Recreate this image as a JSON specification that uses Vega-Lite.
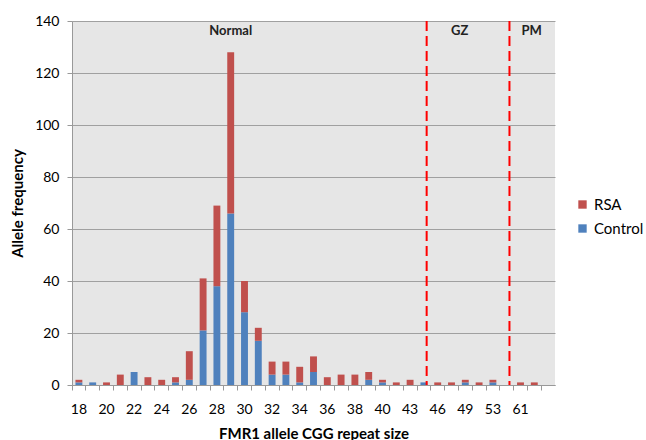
{
  "$schema": "https://vega.github.io/schema/vega-lite/v6.json",
  "width": 483,
  "height": 364,
  "autosize": {"type": "none"},
  "padding": {"left": 72, "top": 21, "right": 91, "bottom": 55},
  "background": "white",
  "config": {"font": "Lato", "view": {"fill": "#e6e6e6", "stroke": null}},
  "data": {
    "values": [
      {"size": "18", "group": "Control", "count": 1}, {"size": "18", "group": "RSA", "count": 1},
      {"size": "19", "group": "Control", "count": 1}, {"size": "19", "group": "RSA", "count": 0},
      {"size": "20", "group": "Control", "count": 0}, {"size": "20", "group": "RSA", "count": 1},
      {"size": "21", "group": "Control", "count": 0}, {"size": "21", "group": "RSA", "count": 4},
      {"size": "22", "group": "Control", "count": 5}, {"size": "22", "group": "RSA", "count": 0},
      {"size": "23", "group": "Control", "count": 0}, {"size": "23", "group": "RSA", "count": 3},
      {"size": "24", "group": "Control", "count": 0}, {"size": "24", "group": "RSA", "count": 2},
      {"size": "25", "group": "Control", "count": 1}, {"size": "25", "group": "RSA", "count": 2},
      {"size": "26", "group": "Control", "count": 2}, {"size": "26", "group": "RSA", "count": 11},
      {"size": "27", "group": "Control", "count": 21}, {"size": "27", "group": "RSA", "count": 20},
      {"size": "28", "group": "Control", "count": 38}, {"size": "28", "group": "RSA", "count": 31},
      {"size": "29", "group": "Control", "count": 66}, {"size": "29", "group": "RSA", "count": 62},
      {"size": "30", "group": "Control", "count": 28}, {"size": "30", "group": "RSA", "count": 12},
      {"size": "31", "group": "Control", "count": 17}, {"size": "31", "group": "RSA", "count": 5},
      {"size": "32", "group": "Control", "count": 4}, {"size": "32", "group": "RSA", "count": 5},
      {"size": "33", "group": "Control", "count": 4}, {"size": "33", "group": "RSA", "count": 5},
      {"size": "34", "group": "Control", "count": 1}, {"size": "34", "group": "RSA", "count": 6},
      {"size": "35", "group": "Control", "count": 5}, {"size": "35", "group": "RSA", "count": 6},
      {"size": "36", "group": "Control", "count": 0}, {"size": "36", "group": "RSA", "count": 3},
      {"size": "37", "group": "Control", "count": 0}, {"size": "37", "group": "RSA", "count": 4},
      {"size": "38", "group": "Control", "count": 0}, {"size": "38", "group": "RSA", "count": 4},
      {"size": "39", "group": "Control", "count": 2}, {"size": "39", "group": "RSA", "count": 3},
      {"size": "40", "group": "Control", "count": 1}, {"size": "40", "group": "RSA", "count": 1},
      {"size": "41", "group": "Control", "count": 0}, {"size": "41", "group": "RSA", "count": 1},
      {"size": "43", "group": "Control", "count": 0}, {"size": "43", "group": "RSA", "count": 2},
      {"size": "45", "group": "Control", "count": 1}, {"size": "45", "group": "RSA", "count": 0},
      {"size": "46", "group": "Control", "count": 0}, {"size": "46", "group": "RSA", "count": 1},
      {"size": "47", "group": "Control", "count": 0}, {"size": "47", "group": "RSA", "count": 1},
      {"size": "49", "group": "Control", "count": 1}, {"size": "49", "group": "RSA", "count": 1},
      {"size": "51", "group": "Control", "count": 0}, {"size": "51", "group": "RSA", "count": 1},
      {"size": "53", "group": "Control", "count": 1}, {"size": "53", "group": "RSA", "count": 1},
      {"size": "61", "group": "Control", "count": 0}, {"size": "61", "group": "RSA", "count": 1},
      {"size": "63", "group": "Control", "count": 0}, {"size": "63", "group": "RSA", "count": 1}
    ]
  },
  "encoding": {
    "x": {
      "field": "size",
      "type": "ordinal",
      "scale": {
        "domain": ["18","19","20","21","22","23","24","25","26","27","28","29","30","31","32","33","34","35","36","37","38","39","40","41","43","45","46","47","49","51","53","55","61","63","65"],
        "paddingInner": 0,
        "paddingOuter": 0
      },
      "axis": {
        "title": "FMR1 allele CGG repeat size",
        "labelAngle": 0,
        "bandPosition": 0,
        "tickSize": 5,
        "tickColor": "#999999",
        "domainColor": "#999999",
        "labelPadding": 12,
        "labelFontSize": 14,
        "labelColor": "#000000",
        "labelOverlap": false,
        "labelExpr": "indexof(['18','20','22','24','26','28','30','32','34','36','38','40','43','46','49','53','61'], datum.value) >= 0 ? datum.label : ''",
        "titleFontSize": 15,
        "titleFontWeight": "bold",
        "titleColor": "#000000",
        "titleY": 48,
        "titleBaseline": "middle",
        "grid": false
      }
    }
  },
  "layer": [
    {
      "mark": {"type": "bar", "width": {"band": 0.5}},
      "encoding": {
        "y": {
          "field": "count",
          "type": "quantitative",
          "stack": "zero",
          "scale": {"domain": [0, 140]},
          "axis": {
            "title": "Allele frequency",
            "values": [0, 20, 40, 60, 80, 100, 120, 140],
            "grid": true,
            "gridColor": "#a0a0a0",
            "domainColor": "#999999",
            "tickColor": "#999999",
            "tickSize": 5,
            "labelPadding": 8,
            "labelFontSize": 14,
            "labelColor": "#000000",
            "titleFontSize": 15,
            "titleFontWeight": "bold",
            "titleColor": "#000000",
            "titleX": -55,
            "titleBaseline": "middle"
          }
        },
        "color": {
          "field": "group",
          "type": "nominal",
          "scale": {"domain": ["RSA", "Control"], "range": ["#c0504d", "#4f81bd"]},
          "legend": {
            "title": null,
            "orient": "none",
            "legendX": 503,
            "legendY": 176,
            "symbolType": "square",
            "symbolSize": 70,
            "symbolStrokeWidth": 0,
            "labelFontSize": 15,
            "labelColor": "#000000",
            "rowPadding": 8
          }
        },
        "order": {"field": "group", "sort": "ascending"}
      }
    },
    {
      "data": {"values": [{"size": "45"}, {"size": "55"}]},
      "mark": {"type": "rule", "color": "#ff0000", "strokeWidth": 2, "strokeDash": [10, 5]},
      "encoding": {"x": {"field": "size", "type": "ordinal", "bandPosition": 0.7}}
    },
    {
      "data": {"values": [{"size": "29", "zone": "Normal"}]},
      "mark": {"type": "text", "fontSize": 13, "fontWeight": "bold", "color": "#222222", "baseline": "middle"},
      "encoding": {"x": {"field": "size", "type": "ordinal", "bandPosition": 0.5}, "y": {"datum": 136, "type": "quantitative"}, "text": {"field": "zone"}}
    },
    {
      "data": {"values": [{"size": "49", "zone": "GZ"}]},
      "mark": {"type": "text", "fontSize": 13, "fontWeight": "bold", "color": "#222222", "baseline": "middle"},
      "encoding": {"x": {"field": "size", "type": "ordinal", "bandPosition": 0.09}, "y": {"datum": 136, "type": "quantitative"}, "text": {"field": "zone"}}
    },
    {
      "data": {"values": [{"size": "63", "zone": "PM"}]},
      "mark": {"type": "text", "fontSize": 13, "fontWeight": "bold", "color": "#222222", "baseline": "middle"},
      "encoding": {"x": {"field": "size", "type": "ordinal", "bandPosition": 0.31}, "y": {"datum": 136, "type": "quantitative"}, "text": {"field": "zone"}}
    }
  ]
}
